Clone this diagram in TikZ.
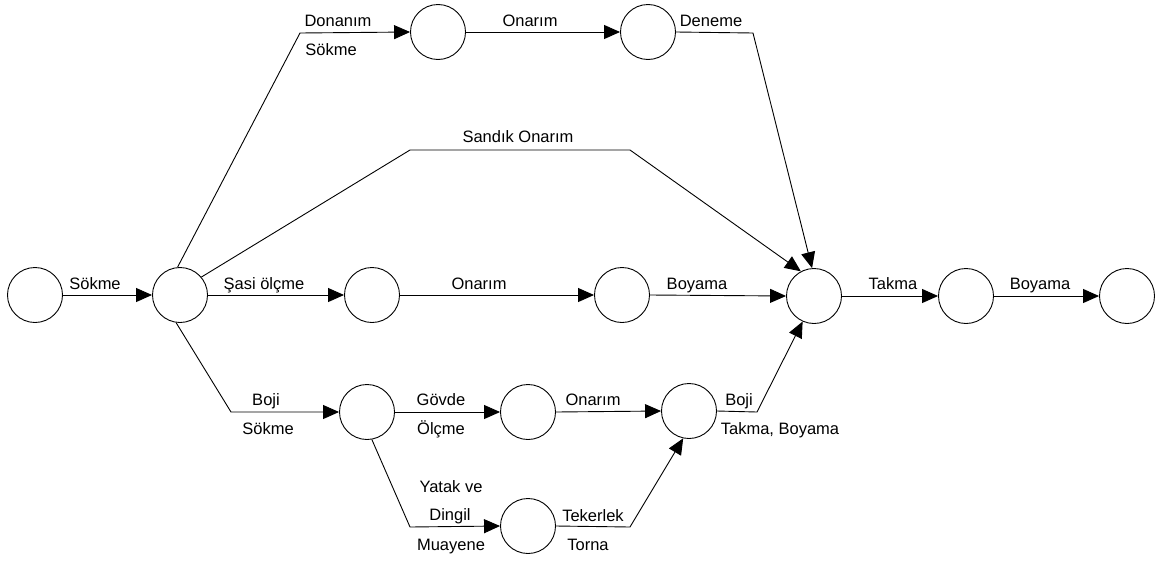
\documentclass[tikz,border=0pt]{standalone}
\usepackage{fontspec}
\setmainfont{Liberation Sans}
\usetikzlibrary{arrows.meta}
\begin{document}
\begin{tikzpicture}[x=1pt,y=-1pt,
  ev/.style={circle,draw,line width=0.9pt,minimum size=55pt,inner sep=0pt},
  lbl/.style={anchor=base,inner sep=0pt,font=\fontsize{16.5}{19}\selectfont},
  con/.style={line width=0.9pt,-{Triangle[length=16pt,width=14pt]}},
  line join=miter]
\useasboundingbox (0,0) rectangle (1155,562);
% events
\node[ev] (A) at (35,295) {};
\node[ev] (B) at (180,295) {};
\node[ev] (C) at (372,295) {};
\node[ev] (D) at (438,32) {};
\node[ev] (E) at (648,32) {};
\node[ev] (I) at (622,295) {};
\node[ev] (F) at (814,296) {};
\node[ev] (G) at (966,296) {};
\node[ev] (H) at (1127,296) {};
\node[ev] (J) at (367,412) {};
\node[ev] (K) at (528,412) {};
\node[ev] (L) at (689,411) {};
\node[ev] (M) at (528,526) {};
% bend points
\coordinate (b1) at (300,33);
\coordinate (b2) at (753,33);
\coordinate (b3) at (410,150);
\coordinate (b4) at (630,150);
\coordinate (b5) at (231,412);
\coordinate (b6) at (410,527);
\coordinate (b7) at (630,527);
\coordinate (b8) at (757,412);
% connectors
\draw[con] (A.east) -- (B.west);
\draw[con] (B.95) -- (b1) -- (D.west);
\draw[con] (D.east) -- (E.west);
\draw[con] (E.east) -- (b2) -- (F.94);
\draw[con] (B.40) -- (b3) -- (b4) -- (F.118);
\draw[con] (B.east) -- (C.west);
\draw[con] (C.east) -- (I.west);
\draw[con] (I.east) -- (F.west);
\draw[con] (F.east) -- (G.west);
\draw[con] (G.east) -- (H.west);
\draw[con] (B.262) -- (b5) -- (J.west);
\draw[con] (J.east) -- (K.west);
\draw[con] (K.east) -- (L.west);
\draw[con] (L.east) -- (b8) -- (F.246);
\draw[con] (J.280) -- (b6) -- (M.west);
\draw[con] (M.east) -- (b7) -- (L.258);
% labels
\node[lbl] (t1) at (95,289) {Sökme};
\node[lbl] (t2) at (264,289) {Şasi ölçme};
\node[lbl] (t3) at (338,27) {Donanım};
\node[lbl] (t4) at (331,55) {Sökme};
\node[lbl] (t5) at (530,27) {Onarım};
\node[lbl] (t6) at (711,27) {Deneme};
\node[lbl] (t7) at (518,142) {Sandık Onarım};
\node[lbl] (t8) at (479,289) {Onarım};
\node[lbl] (t9) at (697,289) {Boyama};
\node[lbl] (t10) at (893,289) {Takma};
\node[lbl] (t11) at (1040,289) {Boyama};
\node[lbl] (t12) at (266,405) {Boji};
\node[lbl] (t13) at (268,434) {Sökme};
\node[lbl] (t14) at (441,405) {Gövde};
\node[lbl] (t15) at (441,434) {Ölçme};
\node[lbl] (t16) at (593,405) {Onarım};
\node[lbl] (t17) at (739,405) {Boji};
\node[lbl] (t18) at (780,434) {Takma, Boyama};
\node[lbl] (t19) at (451,492) {Yatak ve};
\node[lbl] (t20) at (450,520) {Dingil};
\node[lbl] (t21) at (451,550) {Muayene};
\node[lbl] (t22) at (593,521) {Tekerlek};
\node[lbl] (t23) at (588,550) {Torna};
\end{tikzpicture}
\end{document}
